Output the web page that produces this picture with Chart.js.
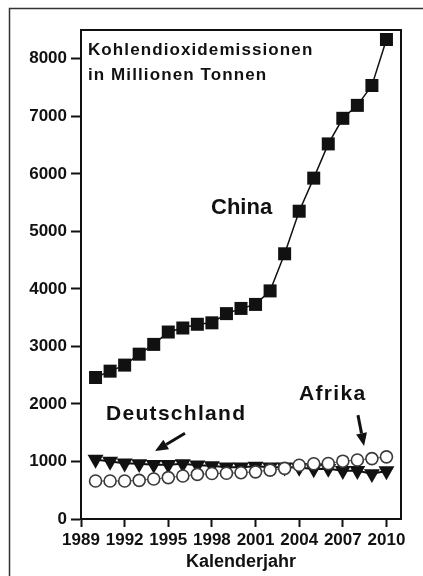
<!DOCTYPE html>
<html>
<head>
<meta charset="utf-8">
<script src="https://cdn.jsdelivr.net/npm/chart.js@4"></script>
<style>
  html, body { margin: 0; padding: 0; background: #fff; }
  #wrap { width: 423px; height: 576px; position: relative; }
</style>
</head>
<body>
<div id="wrap"><canvas id="co2Chart"></canvas></div>
<script>
// CO2 emissions, million tonnes
const years = [1990, 1991, 1992, 1993, 1994, 1995, 1996, 1997, 1998, 1999, 2000,
               2001, 2002, 2003, 2004, 2005, 2006, 2007, 2008, 2009, 2010];
const china = [2460, 2570, 2675, 2865, 3035, 3250, 3320, 3385, 3410, 3570, 3660,
               3730, 3965, 4610, 5350, 5925, 6520, 6965, 7190, 7535, 8335];
const deutschland = [1035, 1000, 970, 960, 945, 945, 960, 935, 925, 900, 900,
                     915, 900, 900, 895, 870, 875, 840, 840, 785, 835];
const afrika = [660, 660, 660, 672, 695, 720, 748, 775, 790, 795, 805,
                820, 850, 880, 935, 960, 965, 1005, 1025, 1050, 1080];
const yTicks = [0, 1000, 2000, 3000, 4000, 5000, 6000, 7000, 8000];
const xTicks = [1989, 1992, 1995, 1998, 2001, 2004, 2007, 2010];

const FONT = "'Liberation Sans', Arial, sans-serif";
const INK = '#111';

function pts(values) {
    return years.map((y, i) => ({ x: y, y: values[i] }));
}

function arrow(ctx, x0, y0, x1, y1) {
    const ang = Math.atan2(y1 - y0, x1 - x0);
    const head = 13, half = 5.5;
    const bx = x1 - Math.cos(ang) * head, by = y1 - Math.sin(ang) * head;
    ctx.beginPath();
    ctx.moveTo(x0, y0);
    ctx.lineTo(bx, by);
    ctx.lineWidth = 3;
    ctx.strokeStyle = INK;
    ctx.stroke();
    ctx.beginPath();
    ctx.moveTo(x1, y1);
    ctx.lineTo(bx + Math.sin(ang) * half, by - Math.cos(ang) * half);
    ctx.lineTo(bx - Math.sin(ang) * half, by + Math.cos(ang) * half);
    ctx.closePath();
    ctx.fillStyle = INK;
    ctx.fill();
}

const decor = {
    id: 'decor',
    beforeDraw(chart) {
        const ctx = chart.ctx;
        ctx.save();
        ctx.fillStyle = '#fff';
        ctx.fillRect(0, 0, chart.width, chart.height);
        ctx.strokeStyle = '#333';
        ctx.lineWidth = 1.5;
        ctx.strokeRect(9.5, 8.5, 420, 575);
        ctx.restore();
    },
    afterDraw(chart) {
        const ctx = chart.ctx;
        const a = chart.chartArea;
        const x = chart.scales.x, y = chart.scales.y;
        const px = v => x.getPixelForValue(v), py = v => y.getPixelForValue(v);
        ctx.save();
        // top and right edges of the plot box
        ctx.strokeStyle = INK;
        ctx.lineWidth = 2;
        ctx.beginPath();
        ctx.moveTo(a.left, a.top);
        ctx.lineTo(a.right, a.top);
        ctx.lineTo(a.right, a.bottom);
        ctx.stroke();

        ctx.fillStyle = INK;
        ctx.textBaseline = 'alphabetic';
        ctx.textAlign = 'left';
        ctx.font = 'bold 17px ' + FONT;
        ctx.letterSpacing = '1.1px';
        ctx.fillText('Kohlendioxidemissionen', px(1989.48), py(8069));
        ctx.fillText('in Millionen Tonnen', px(1989.48), py(7636));

        ctx.letterSpacing = '0px';
        ctx.font = 'bold 22px ' + FONT;
        ctx.fillText('China', px(1997.94), py(5310));

        ctx.font = 'bold 21px ' + FONT;
        ctx.letterSpacing = '1.3px';
        ctx.fillText('Deutschland', px(1990.72), py(1718));
        ctx.fillText('Afrika', px(2003.99), py(2065));
        ctx.letterSpacing = '0px';

        arrow(ctx, px(1996.15), py(1492), px(1994.09), py(1180));
        arrow(ctx, px(2008.04), py(1805), px(2008.46), py(1267));
        ctx.restore();
    }
};

new Chart(document.getElementById('co2Chart'), {
    type: 'line',
    data: {
        datasets: [{
            label: 'China',
            data: pts(china),
            borderColor: INK,
            borderWidth: 1.5,
            pointStyle: 'rect',
            pointRadius: 9.2,
            pointBackgroundColor: INK,
            pointBorderColor: INK,
            pointBorderWidth: 0,
            order: 0
        }, {
            label: 'Afrika',
            data: pts(afrika),
            borderColor: '#555',
            borderWidth: 1,
            pointStyle: 'circle',
            pointRadius: 6,
            pointBackgroundColor: '#fff',
            pointBorderColor: '#3a3a3a',
            pointBorderWidth: 1.6,
            order: 1
        }, {
            label: 'Deutschland',
            data: pts(deutschland),
            borderColor: INK,
            borderWidth: 2,
            pointStyle: 'triangle',
            rotation: 180,
            pointRadius: 9.2,
            pointBackgroundColor: INK,
            pointBorderColor: INK,
            pointBorderWidth: 0,
            order: 2
        }]
    },
    options: {
        responsive: true,
        maintainAspectRatio: false,
        animation: false,
        layout: { padding: { left: 0, top: 30, right: 22, bottom: 0 } },
        plugins: {
            legend: { display: false },
            tooltip: { enabled: false }
        },
        scales: {
            x: {
                type: 'linear',
                min: 1989,
                max: 2011,
                afterBuildTicks: s => { s.ticks = xTicks.map(v => ({ value: v })); },
                afterFit: s => { s.height = 57; },
                ticks: {
                    autoSkip: false,
                    maxRotation: 0,
                    padding: 3,
                    color: INK,
                    font: { family: FONT, size: 17, weight: 'bold' },
                    callback: v => String(v)
                },
                grid: {
                    drawOnChartArea: false,
                    drawTicks: true,
                    tickLength: 8,
                    tickWidth: 2,
                    tickColor: INK
                },
                border: { color: INK, width: 2 },
                title: {
                    display: true,
                    text: 'Kalenderjahr',
                    color: INK,
                    font: { family: FONT, size: 18, weight: 'bold' },
                    padding: { top: 0, bottom: 3 }
                }
            },
            y: {
                min: 0,
                max: 8500,
                afterBuildTicks: s => { s.ticks = yTicks.map(v => ({ value: v })); },
                afterFit: s => { s.width = 81; },
                ticks: {
                    padding: 4,
                    color: INK,
                    font: { family: FONT, size: 17, weight: 'bold' },
                    callback: v => String(v)
                },
                grid: {
                    drawOnChartArea: false,
                    drawTicks: true,
                    tickLength: 10,
                    tickWidth: 2,
                    tickColor: INK
                },
                border: { color: INK, width: 2 }
            }
        }
    },
    plugins: [decor]
});
</script>
</body>
</html>
